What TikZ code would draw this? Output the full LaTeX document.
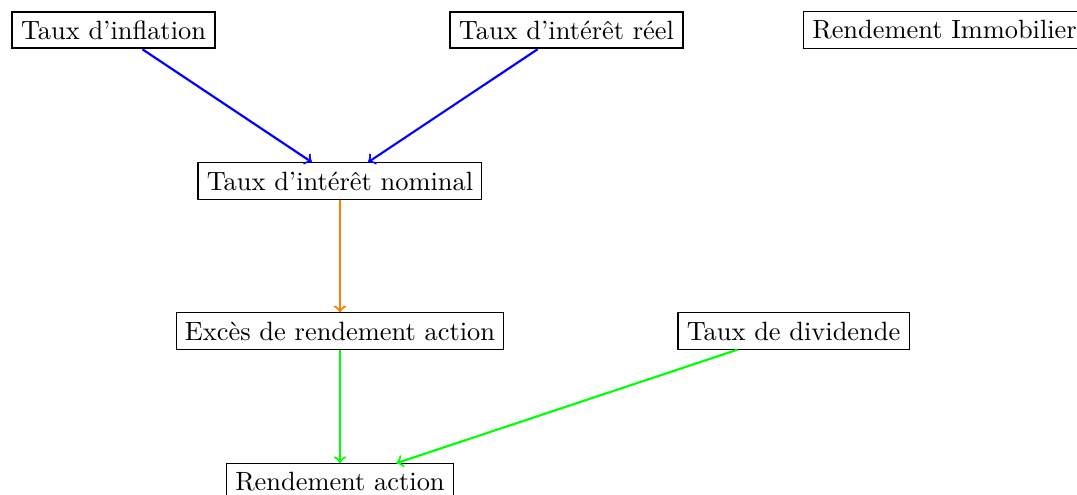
\documentclass[tikz,border=0pt]{standalone}

\begin{document}
\begin{tikzpicture}[
  box/.style={draw, rectangle, inner sep=3.33pt},
  boxthick/.style={box, thick},
  e/.style={->, thick}
]
\useasboundingbox (0,0) rectangle (14.335,-6.588);

% row 1
\node[boxthick] (infl) at (1.511,-0.399) {Taux d'inflation};
\node[boxthick] (reel) at (7.540,-0.399) {Taux d'intérêt réel};
\node[box, anchor=west] (immo) at (10.688,-0.399) {Rendement Immobilier};
% row 2
\node[box] (nominal) at (4.525,-2.409) {Taux d'intérêt nominal};
% row 3
\node[box] (exces) at (4.525,-4.406) {Excès de rendement action};
\node[box] (div) at (10.562,-4.406) {Taux de dividende};
% row 4
\node[box] (rend) at (4.525,-6.415) {Rendement action};

% arrows
\draw[e, blue] (infl) -- (nominal);
\draw[e, blue] (reel) -- (nominal);
\draw[e, orange] (nominal) -- (exces);
\draw[e, green] (exces) -- (rend);
\draw[e, green] (div) -- (rend);
\end{tikzpicture}
\end{document}
